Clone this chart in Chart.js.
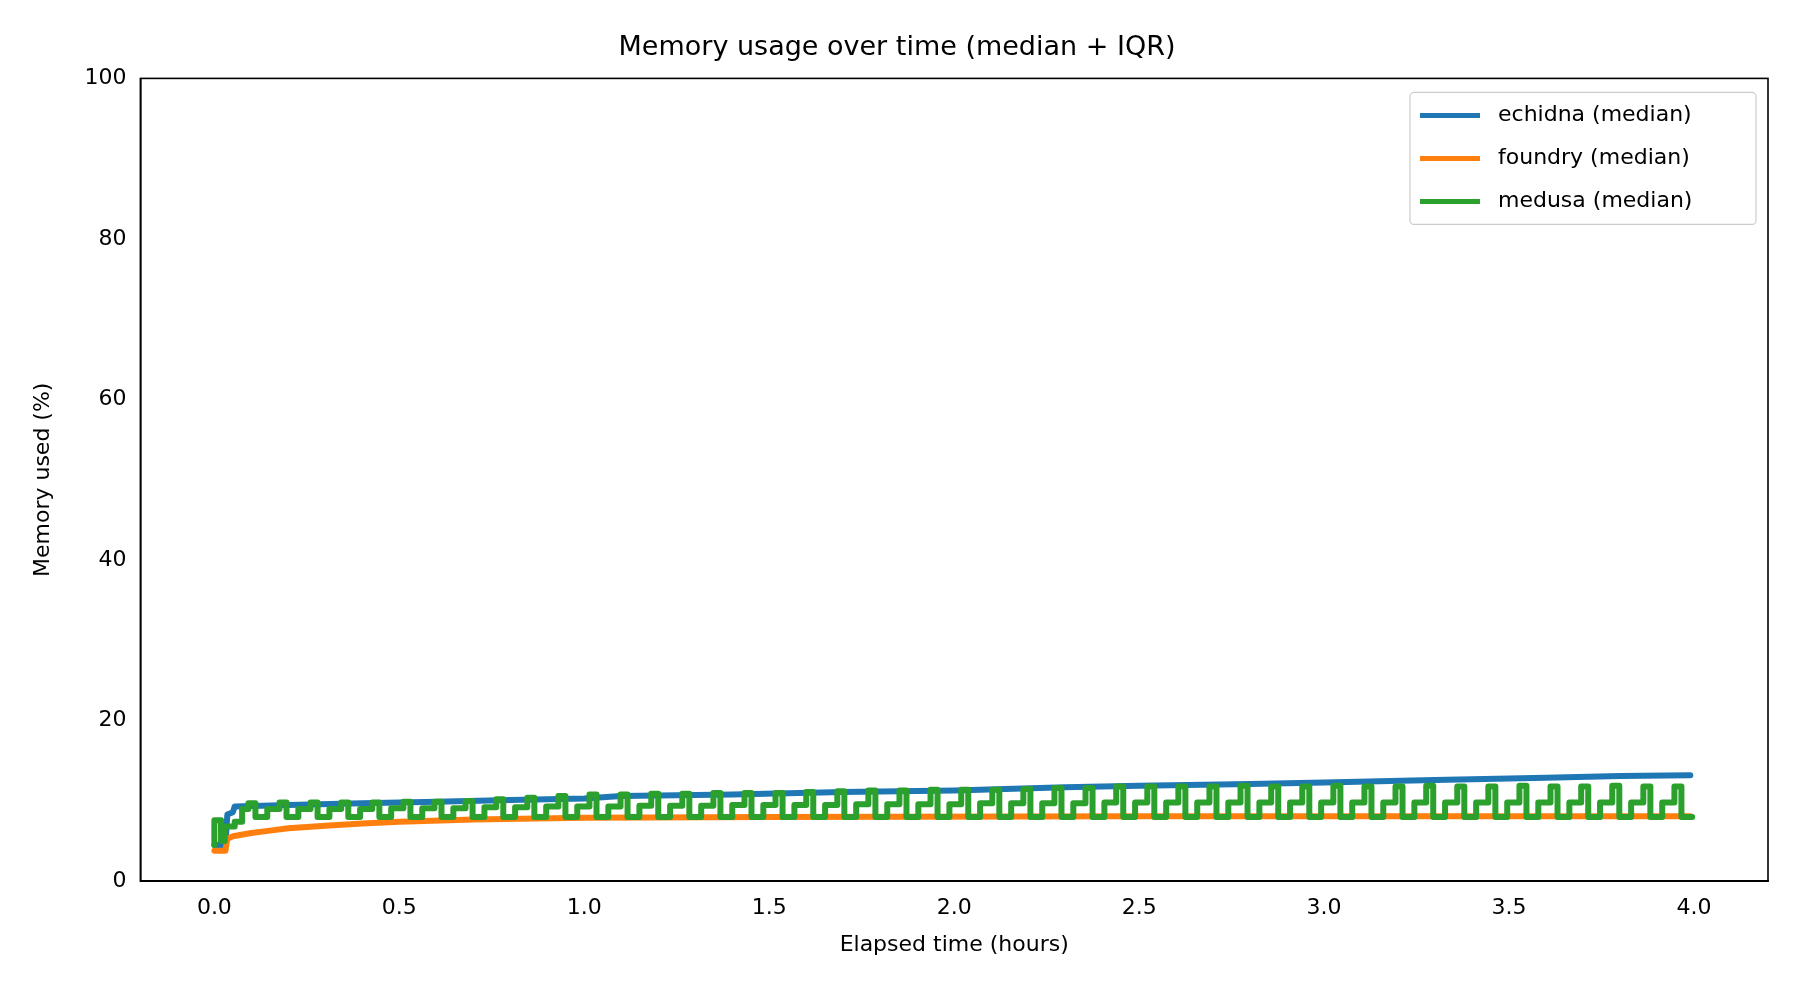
<!DOCTYPE html>
<html>
<head>
<meta charset="utf-8">
<script src="https://cdn.jsdelivr.net/npm/chart.js@4/dist/chart.umd.min.js"></script>
<style>
  body { margin: 0; background: #fff; }
  #wrap { width: 1800px; height: 1000px; }
</style>
</head>
<body>
<div id="wrap"><canvas id="graph" width="1800" height="1000"></canvas></div>
<script>
var FONT = 'DejaVu Sans'
var xTicks = [0, 0.5, 1, 1.5, 2, 2.5, 3, 3.5, 4]
var yTicks = [0, 20, 40, 60, 80, 100]

// [hours, percent] points
var echidna = [[0, 4.5], [0.03, 4.5], [0.035, 8.3], [0.05, 8.6], [0.055, 9.3], [0.2, 9.5], [0.4, 9.7],
    [0.6, 9.9], [0.8, 10.1], [1.0, 10.3], [1.1, 10.6], [1.4, 10.8], [1.7, 11.1], [2.0, 11.3],
    [2.3, 11.7], [2.5, 11.9], [2.8, 12.1], [3.0, 12.3], [3.3, 12.6], [3.6, 12.9], [3.8, 13.1], [3.99, 13.2]]
var foundry = [[0, 3.8], [0.03, 3.8], [0.035, 5.3], [0.05, 5.6], [0.1, 6.0], [0.15, 6.3], [0.2, 6.6],
    [0.3, 6.9], [0.4, 7.2], [0.5, 7.4], [0.7, 7.7], [1.0, 7.9], [1.5, 8.0], [2.5, 8.1], [3.99, 8.1]]

// medusa: warm-up steps, then a periodic cycle (low -> shoulder -> peak)
var medusaStart = [[0, 4.5], [0.018, 7.6], [0.028, 5.0], [0.055, 6.8], [0.075, 7.4]]
var medusaPeakTime = [0.127, 0.211, 0.295, 0.378, 0.462, 0.546, 0.630, 0.714, 0.797, 0.881,
    0.965, 1.049, 1.133, 1.216, 1.300, 1.384, 1.468, 1.552, 1.635, 1.719,
    1.803, 1.887, 1.971, 2.054, 2.138, 2.222, 2.306, 2.390, 2.473, 2.557,
    2.641, 2.725, 2.809, 2.892, 2.976, 3.060, 3.144, 3.228, 3.311, 3.395,
    3.479, 3.563, 3.647, 3.730, 3.814, 3.898, 3.982]
var medusaPeak = [9.7, 9.8, 9.8, 9.8, 9.8, 9.9, 9.9, 10.0, 10.2, 10.4,
    10.6, 10.8, 10.8, 10.9, 10.9, 11.0, 11.0, 11.0, 11.1, 11.2,
    11.3, 11.3, 11.4, 11.4, 11.4, 11.5, 11.6, 11.6, 11.8, 11.8,
    11.8, 11.8, 11.9, 11.8, 11.8, 11.9, 11.8, 11.8, 11.9, 11.8,
    11.8, 11.9, 11.8, 11.8, 11.9, 11.8, 11.8]
var medusaShoulder = [9.0, 9.0, 9.0, 9.0, 9.0, 9.1, 9.1, 9.1, 9.2, 9.2,
    9.3, 9.3, 9.3, 9.4, 9.4, 9.4, 9.5, 9.5, 9.5, 9.5,
    9.6, 9.6, 9.6, 9.6, 9.7, 9.7, 9.7, 9.7, 9.8, 9.8,
    9.8, 9.8, 9.8, 9.8, 9.8, 9.8, 9.8, 9.8, 9.8, 9.8,
    9.8, 9.8, 9.8, 9.8, 9.8, 9.8, 9.8]
var medusaLow = 8.0

var toXY = function (arr) {
    return arr.map(function (p) { return { x: p[0], y: p[1] } })
}

var medusa = toXY(medusaStart)
medusaPeakTime.forEach(function (c, i) {
    medusa.push({ x: c - 0.035, y: medusaShoulder[i] })
    medusa.push({ x: c - 0.016, y: medusaPeak[i] })
    medusa.push({ x: Math.min(c + 0.016, 3.995), y: medusaLow })
})

var series = [
    { label: 'echidna (median)', color: '#1f77b4', data: toXY(echidna), order: 2, stepped: false },
    { label: 'foundry (median)', color: '#ff7f0e', data: toXY(foundry), order: 1, stepped: false },
    { label: 'medusa (median)', color: '#2ca02c', data: medusa, order: 0, stepped: 'after' }
]

// boxed matplotlib-style legend in the upper right
var boxLegend = {
    id: 'boxLegend',
    afterDraw: function (chart) {
        var c = chart.ctx, a = chart.chartArea
        var w = 346, h = 132, x = a.right - w - 12, y = a.top + 14
        c.save()
        c.fillStyle = 'rgba(255,255,255,0.8)'
        c.strokeStyle = '#cccccc'
        c.lineWidth = 1.2
        c.beginPath()
        c.roundRect(x, y, w, h, 4)
        c.fill()
        c.stroke()
        c.font = '22px ' + FONT
        c.textBaseline = 'middle'
        series.forEach(function (s, i) {
            var ly = y + 23 + i * 43
            c.strokeStyle = s.color
            c.lineWidth = 5
            c.beginPath()
            c.moveTo(x + 10, ly)
            c.lineTo(x + 70, ly)
            c.stroke()
            c.fillStyle = '#000'
            c.fillText(s.label, x + 88, ly)
        })
        c.restore()
    }
}

// black frame around the plot
var frame = {
    id: 'frame',
    afterDatasetsDraw: function (chart) {
        var c = chart.ctx, a = chart.chartArea
        c.save()
        c.strokeStyle = '#000'
        c.lineWidth = 1.6
        c.strokeRect(a.left, a.top, a.right - a.left, a.bottom - a.top)
        c.restore()
    }
}

var ctx = document.getElementById('graph').getContext('2d')
var chart = new Chart(ctx, {
    type: 'line',
    data: {
        datasets: series.map(function (s) {
            return {
                label: s.label,
                data: s.data,
                borderColor: s.color,
                backgroundColor: s.color,
                borderWidth: 6,
                pointRadius: 0,
                stepped: s.stepped,
                borderJoinStyle: 'round',
                borderCapStyle: 'round',
                order: s.order
            }
        })
    },
    options: {
        responsive: false,
        animation: false,
        layout: { padding: { top: 16, right: 32, left: 26, bottom: 38 } },
        plugins: {
            legend: { display: false },
            tooltip: { enabled: false },
            title: {
                display: true,
                text: 'Memory usage over time (median + IQR)',
                color: '#000',
                font: { family: FONT, size: 27, weight: 'normal' },
                padding: { top: 16, bottom: 14 }
            }
        },
        scales: {
            x: {
                type: 'linear',
                min: -0.2,
                max: 4.2,
                afterBuildTicks: function (axis) {
                    axis.ticks = xTicks.map(function (v) { return { value: v } })
                },
                ticks: {
                    color: '#000',
                    font: { family: FONT, size: 22 },
                    callback: function (v) { return v.toFixed(1) },
                    padding: 6
                },
                grid: { display: false, drawTicks: true, tickLength: 8, tickColor: '#000' },
                border: { color: '#000', width: 1.6 },
                title: {
                    display: true,
                    text: 'Elapsed time (hours)',
                    color: '#000',
                    font: { family: FONT, size: 22 },
                    padding: { top: 4 }
                }
            },
            y: {
                min: 0,
                max: 100,
                afterBuildTicks: function (axis) {
                    axis.ticks = yTicks.map(function (v) { return { value: v } })
                },
                ticks: {
                    color: '#000',
                    font: { family: FONT, size: 22 },
                    padding: 6
                },
                grid: { display: false, drawTicks: true, tickLength: 8, tickColor: '#000' },
                border: { color: '#000', width: 1.6 },
                title: {
                    display: true,
                    text: 'Memory used (%)',
                    color: '#000',
                    font: { family: FONT, size: 22 },
                    padding: { bottom: 22 }
                }
            }
        }
    },
    plugins: [frame, boxLegend]
})
</script>
</body>
</html>
